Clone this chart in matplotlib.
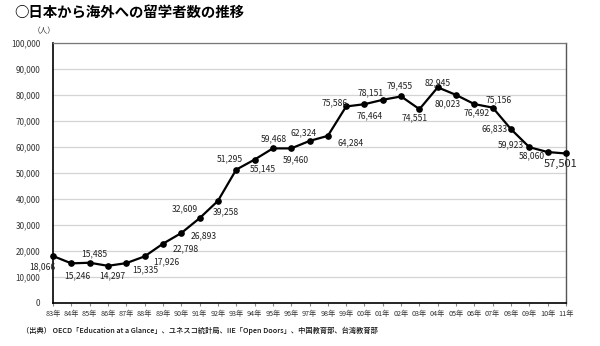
import matplotlib
matplotlib.use("Agg")
import matplotlib.pyplot as plt

plt.rcParams['font.family'] = ['Noto Sans CJK JP', 'DejaVu Sans']

# data: Japanese students studying abroad (persons)
years = ['83年', '84年', '85年', '86年', '87年', '88年', '89年', '90年', '91年', '92年',
         '93年', '94年', '95年', '96年', '97年', '98年', '99年', '00年', '01年', '02年',
         '03年', '04年', '05年', '06年', '07年', '08年', '09年', '10年', '11年']
students = [18066, 15246, 15485, 14297, 15335, 17926, 22798, 26893, 32609, 39258,
            51295, 55145, 59468, 59460, 62324, 64284, 75586, 76464, 78151, 79455,
            74551, 82945, 80023, 76492, 75156, 66833, 59923, 58060, 57501]
yticks = list(range(0, 100001, 10000))

# label offsets in pixels (dx, dy; dy positive = down)
offsets = [(-11, 11), (6, 12), (5, -9), (4, 10), (19, 7), (22, 5), (23, 5), (22, 3),
           (-15, -9), (8, 11), (-6, -11), (8, 9), (1, -10), (5, 11), (-6, -8), (23, 7),
           (-12, -4), (5, 12), (-12, -7), (-1, -11), (-5, 9), (0, -5), (-8, 9), (2, 9),
           (6, -8), (-16, 0), (-18, -2), (-16, 4), (-5, 10)]

fig = plt.figure(figsize=(6.0, 3.46), dpi=100)
ax = fig.add_axes([53/600, 43/346, (566-53)/600, (303-43)/346])

x = list(range(len(years)))
ax.plot(x, students, color='black', lw=1.6, marker='o', ms=3.8, zorder=3, clip_on=False)

for i, v in enumerate(students):
    dx, dy = offsets[i]
    last = i == len(students) - 1
    ax.annotate(f"{v:,}", (i, v), xytext=(dx, -dy), textcoords='offset pixels',
                ha='center', va='center', fontsize=8 if last else 6.2,
                color='#222222', zorder=4)

ax.set_xlim(0, len(years) - 1)
ax.set_ylim(0, 100000)
ax.set_xticks(x)
ax.set_xticklabels(years, fontsize=5.2, color='#333333')
ax.set_yticks(yticks)
ax.set_yticklabels([f"{t:,}" for t in yticks], fontsize=5.8, color='#333333')
ax.tick_params(axis='y', length=0, pad=9)
ax.tick_params(axis='x', length=2, pad=3, color='#888888')
ax.grid(axis='y', color='#d4d4d4', lw=0.9)
ax.set_axisbelow(True)

ax.spines['left'].set_color('black')
ax.spines['left'].set_linewidth(1.2)
ax.spines['bottom'].set_color('black')
ax.spines['bottom'].set_linewidth(1.2)
ax.spines['top'].set_color('#777777')
ax.spines['top'].set_linewidth(0.9)
ax.spines['right'].set_color('#555555')
ax.spines['right'].set_linewidth(1.0)

fig.text(14/600, 1 - 14/346, '○日本から海外への留学者数の推移', fontsize=10.4,
         fontweight='bold', va='center', ha='left')
fig.text(33/600, 1 - 31/346, '（人）', fontsize=5.5, va='center', ha='left', color='#333333')
fig.text(22/600, 1 - 331/346,
         '（出典） OECD「Education at a Glance」、ユネスコ統計局、IIE「Open Doors」、中国教育部、台湾教育部',
         fontsize=5.2, fontweight='medium', va='center', ha='left', color='#111111')

fig.savefig('out.png', dpi=100)
